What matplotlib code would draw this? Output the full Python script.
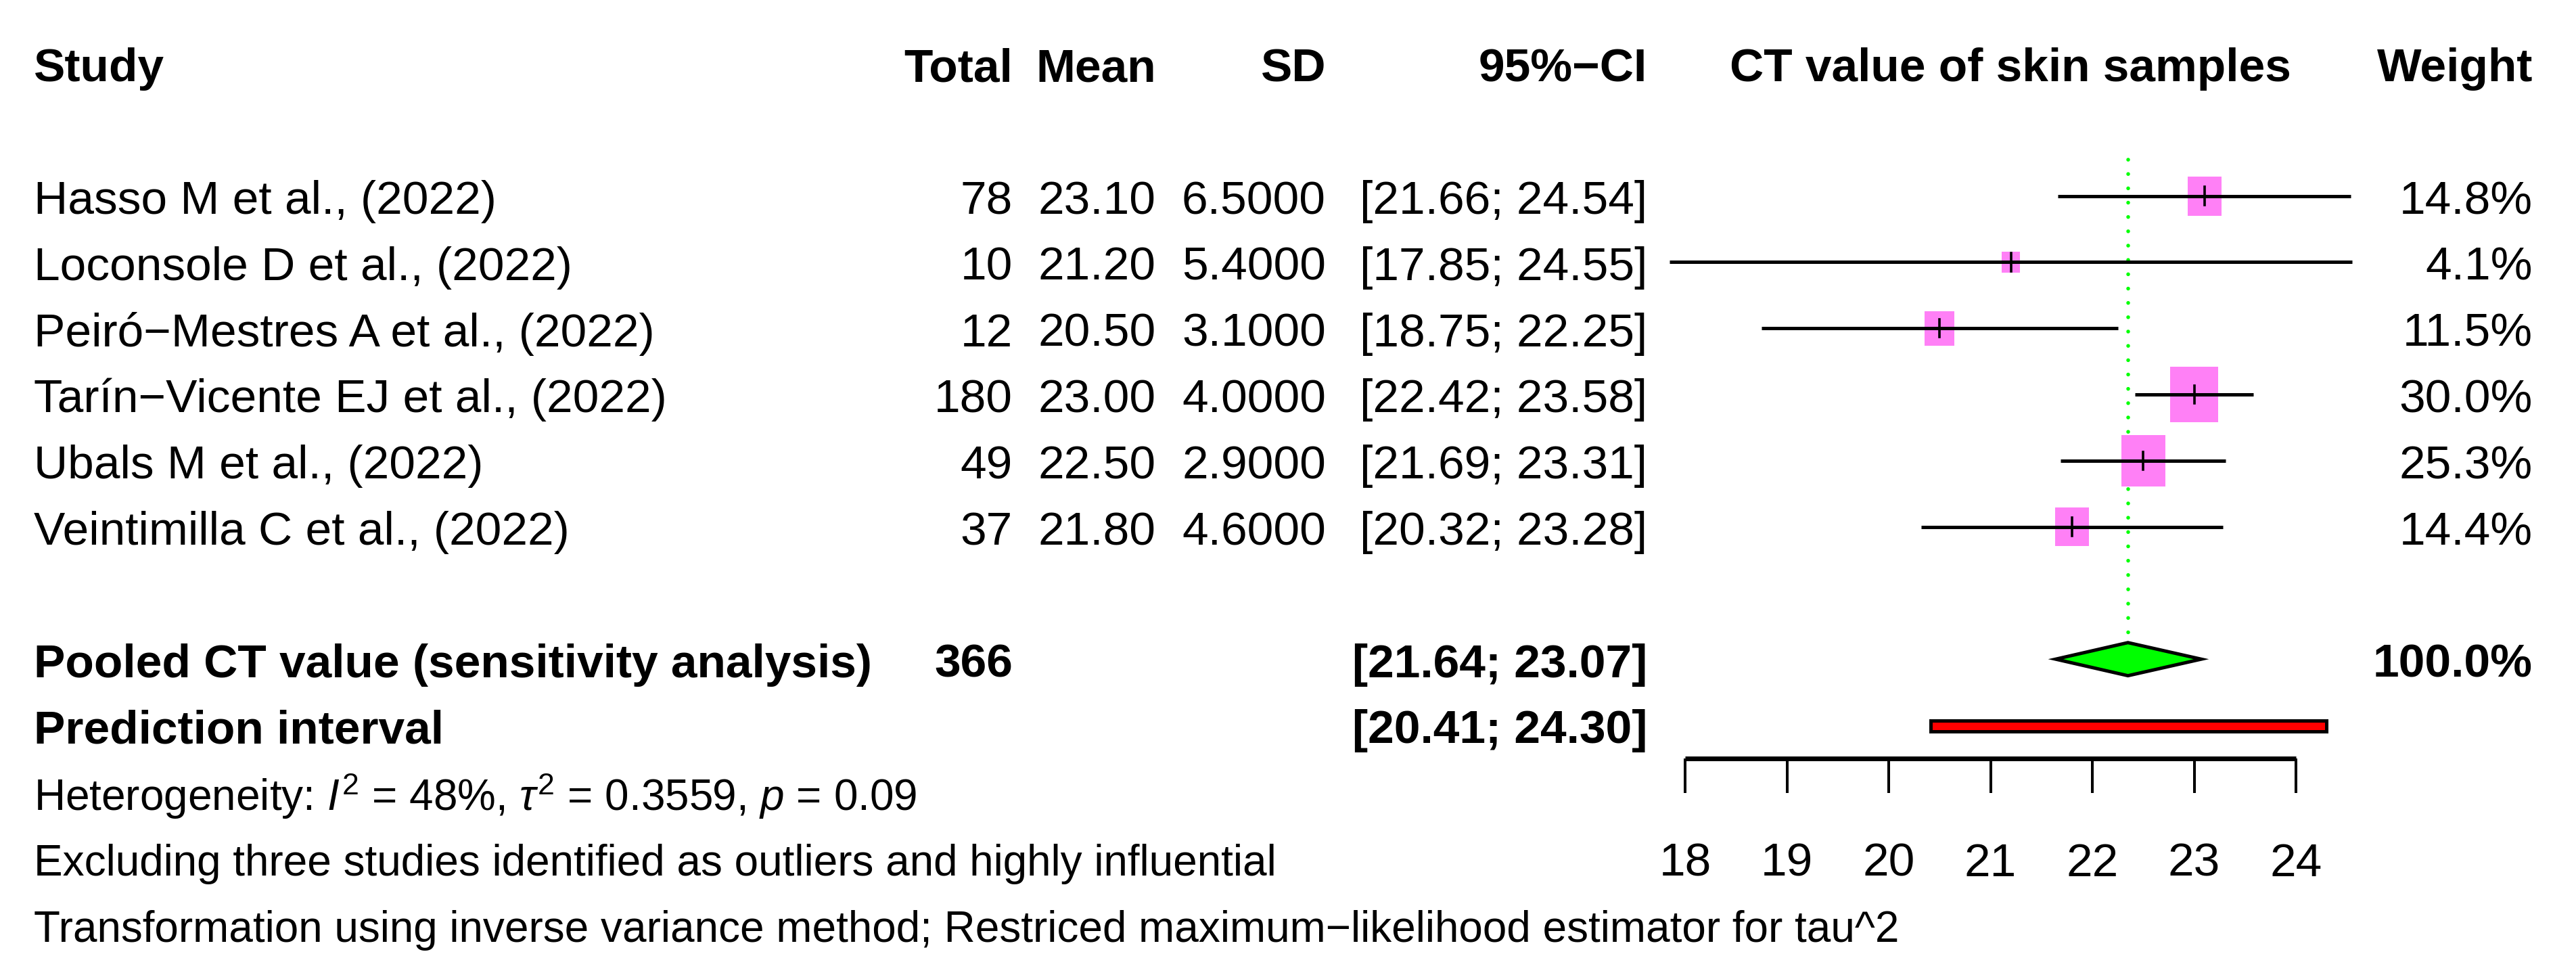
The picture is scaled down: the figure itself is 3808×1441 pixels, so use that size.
import numpy as np
import matplotlib
matplotlib.use('Agg')
import matplotlib.pyplot as plt
from matplotlib.patches import Rectangle, Polygon

plt.rcParams['font.family'] = ['Liberation Sans', 'DejaVu Sans']
plt.rcParams['mathtext.fontset'] = 'custom'
plt.rcParams['mathtext.rm'] = 'Liberation Sans'
plt.rcParams['mathtext.it'] = 'Liberation Sans:italic'

# study data
studies = ['Hasso M et al., (2022)', 'Loconsole D et al., (2022)',
           'Peiró\u2212Mestres A et al., (2022)', 'Tarín\u2212Vicente EJ et al., (2022)',
           'Ubals M et al., (2022)', 'Veintimilla C et al., (2022)']
total = [78, 10, 12, 180, 49, 37]
mean = [23.10, 21.20, 20.50, 23.00, 22.50, 21.80]
sd = [6.5, 5.4, 3.1, 4.0, 2.9, 4.6]
ci_lo = [21.66, 17.85, 18.75, 22.42, 21.69, 20.32]
ci_hi = [24.54, 24.55, 22.25, 23.58, 23.31, 23.28]
weight = [14.8, 4.1, 11.5, 30.0, 25.3, 14.4]

pooled_n = 366
pooled_weight = 100.0
pooled_est = 22.35
pooled_lo, pooled_hi = 21.64, 23.07
pred_lo, pred_hi = 20.41, 24.30
xticks = [18, 19, 20, 21, 22, 23, 24]

W, H = 3808, 1441
FS = 50
FS_FOOT = 46
fig = plt.figure(figsize=(W / 100, H / 100), dpi=100)

# rows: header 0, studies 2..7, pooled 9, prediction 10, footer 11..13
row0_px, row_px = 94, 97.8
ylim = ((H - row0_px) / row_px, -row0_px / row_px)
study_rows = np.arange(2, 2 + len(studies))
pooled_row, pred_row = 9, 10
base = 0.27  # baseline offset below row centre

# text layer in pixel x units
ax = fig.add_axes([0, 0, 1, 1])
ax.set_xlim(0, W)
ax.set_ylim(*ylim)
ax.axis('off')

x_study, x_total, x_mean, x_sd, x_ci, x_w = 50, 1497, 1709, 1960, 2435, 3744

hdr = dict(fontsize=FS, fontweight='bold', va='baseline')
ax.text(x_study, base, 'Study', ha='left', **hdr)
ax.text(x_total, base, 'Total', ha='right', **hdr)
ax.text(x_mean, base, 'Mean', ha='right', **hdr)
ax.text(x_sd, base, 'SD', ha='right', **hdr)
ax.text(x_ci, base, '95%\u2212CI', ha='right', **hdr)
ax.text(2972, base, 'CT value of skin samples', ha='center', **hdr)
ax.text(x_w, base, 'Weight', ha='right', **hdr)

reg = dict(fontsize=FS, va='baseline')
for r, s, n, m, d, lo, hi, w in zip(study_rows, studies, total, mean, sd, ci_lo, ci_hi, weight):
    y = r + base
    ax.text(x_study, y, s, ha='left', **reg)
    ax.text(x_total, y, f'{n}', ha='right', **reg)
    ax.text(x_mean, y, f'{m:.2f}', ha='right', **reg)
    ax.text(x_sd, y, f'{d:.4f}', ha='right', **reg)
    ax.text(x_ci, y, f'[{lo:.2f}; {hi:.2f}]', ha='right', **reg)
    ax.text(x_w, y, f'{w:.1f}%', ha='right', **reg)

ax.text(x_study, pooled_row + base, 'Pooled CT value (sensitivity analysis)', ha='left', **hdr)
ax.text(x_total, pooled_row + base, f'{pooled_n}', ha='right', **hdr)
ax.text(x_ci, pooled_row + base, f'[{pooled_lo:.2f}; {pooled_hi:.2f}]', ha='right', **hdr)
ax.text(x_w, pooled_row + base, f'{pooled_weight:.1f}%', ha='right', **hdr)
ax.text(x_study, pred_row + base, 'Prediction interval', ha='left', **hdr)
ax.text(x_ci, pred_row + base, f'[{pred_lo:.2f}; {pred_hi:.2f}]', ha='right', **hdr)

foot = dict(fontsize=FS_FOOT, va='baseline', ha='left')
ax.text(x_study, 11 + base + 0.02,
        r'Heterogeneity: $I^2$ = 48%, $\tau^2$ = 0.3559, $p$ = 0.09', **foot)
ax.text(x_study, 12 + base,
        'Excluding three studies identified as outliers and highly influential', **foot)
ax.text(x_study, 13 + base,
        'Transformation using inverse variance method; Restriced maximum\u2212likelihood estimator for tau^2',
        **foot)

# forest layer: x in CT units
fx0, fx1 = 2300, 3600
px_per_unit = 150.5
xlim = (18 - (2491 - fx0) / px_per_unit, 18 + (fx1 - 2491) / px_per_unit)
fax = fig.add_axes([fx0 / W, 0, (fx1 - fx0) / W, 1])
fax.set_xlim(*xlim)
fax.set_ylim(*ylim)
fax.axis('off')

# reference line at pooled estimate (round dots)
fax.plot([pooled_est, pooled_est], [1.45, pooled_row - 0.36], color='#00FF00',
         lw=4.0, linestyle=(0, (0.01, 3.8)), dash_capstyle='round', zorder=1)

for r, m, lo, hi, w in zip(study_rows, mean, ci_lo, ci_hi, weight):
    side = 13.0 * np.sqrt(w)
    sw = side / px_per_unit
    sh = 1.16 * side / row_px
    fax.add_patch(Rectangle((m - sw / 2, r - sh / 2), sw, sh, facecolor='#FF80F6',
                            edgecolor='none', zorder=2))
    fax.plot([lo, hi], [r, r], color='black', lw=3.6, solid_capstyle='butt', zorder=3)
    fax.plot([m, m], [r - 0.135, r + 0.135], color='black', lw=2.6, zorder=4)

# pooled diamond
dh = 0.25
fax.add_patch(Polygon([(pooled_lo, pooled_row), (pooled_est, pooled_row - dh),
                       (pooled_hi, pooled_row), (pooled_est, pooled_row + dh)],
                      closed=True, facecolor='#00FF00', edgecolor='black', lw=3.6,
                      joinstyle='miter', zorder=3))

# prediction interval bar
fax.add_patch(Rectangle((pred_lo, pred_row + 0.01 - 0.077), pred_hi - pred_lo, 0.154,
                        facecolor='red', edgecolor='black', lw=3.6, zorder=3))

# x axis
axis_row = 10.5
axis_y = (H - (row0_px + axis_row * row_px)) / H
xax = fig.add_axes([fx0 / W, axis_y, (fx1 - fx0) / W, 0.01])
xax.set_xlim(*xlim)
xax.patch.set_visible(False)
for side_name in ['top', 'left', 'right']:
    xax.spines[side_name].set_visible(False)
xax.spines['bottom'].set_bounds(xticks[0], xticks[-1])
xax.spines['bottom'].set_linewidth(5.0)
xax.spines['bottom'].set_capstyle('butt')
xax.set_yticks([])
xax.set_xticks(xticks)
xax.set_xticklabels([str(t) for t in xticks])
xax.tick_params(axis='x', direction='out', length=37, width=2.9, pad=52, labelsize=FS)

fig.savefig('out.png', dpi=100, facecolor='white')
